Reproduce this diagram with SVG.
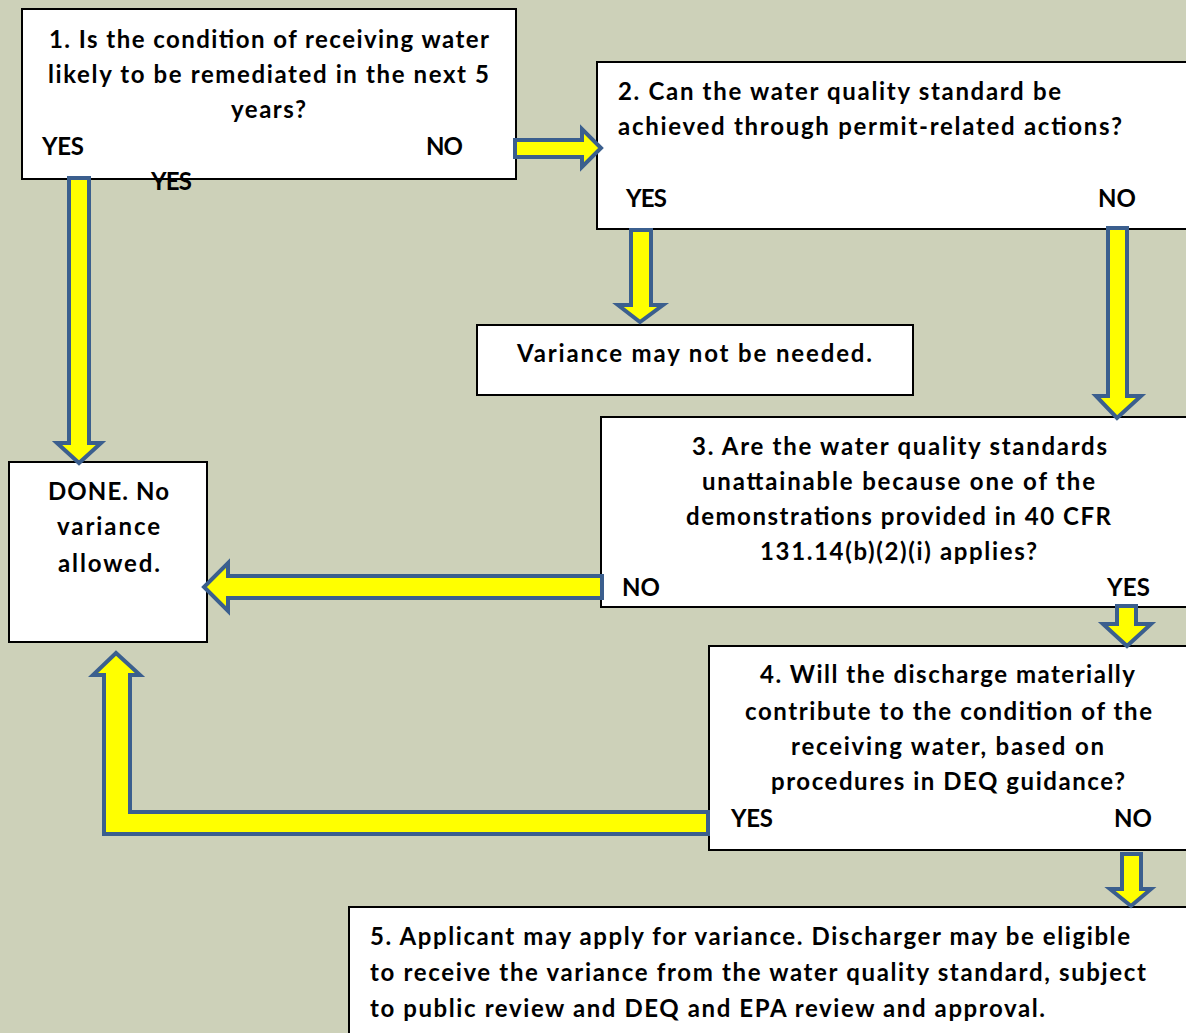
<svg xmlns="http://www.w3.org/2000/svg" width="1186" height="1033" viewBox="0 0 1186 1033">
<style>
.box{fill:#fff;stroke:#000;stroke-width:2}
.t{font-family:Lato,"Liberation Sans",sans-serif;font-weight:bold;font-size:24px;fill:#000}
.arr{fill:#ffff00;stroke:#3b5f8e;stroke-width:4;stroke-linejoin:miter}
</style>
<rect width="1186" height="1033" fill="#cdd1b9"/>
<g id="n1">
<rect class="box" x="22" y="9" width="494" height="170"/>
<text class="t" x="49" y="48" textLength="440" lengthAdjust="spacing">1. Is the condition of receiving water</text>
<text class="t" x="48" y="83" textLength="441" lengthAdjust="spacing">likely to be remediated in the next 5</text>
<text class="t" x="231" y="118" textLength="75" lengthAdjust="spacing">years?</text>
<text class="t" x="42" y="155" textLength="42" lengthAdjust="spacing">YES</text>
<text class="t" x="426" y="155" textLength="37" lengthAdjust="spacing">NO</text>
</g>
<g id="n2">
<rect class="box" x="597" y="62" width="600" height="167"/>
<text class="t" x="618" y="100" textLength="443" lengthAdjust="spacing">2. Can the water quality standard be</text>
<text class="t" x="618" y="135" textLength="504" lengthAdjust="spacing">achieved through permit-related  actions?</text>
<text class="t" x="626" y="207" textLength="41" lengthAdjust="spacing">YES</text>
<text class="t" x="1098" y="207" textLength="38" lengthAdjust="spacing">NO</text>
</g>
<g id="nv">
<rect class="box" x="477" y="325" width="436" height="70"/>
<text class="t" x="517" y="362" textLength="355" lengthAdjust="spacing">Variance may not be needed.</text>
</g>
<g id="n3">
<rect class="box" x="601" y="417" width="600" height="190"/>
<text class="t" x="692" y="455" textLength="415" lengthAdjust="spacing">3. Are the water quality standards</text>
<text class="t" x="702" y="490" textLength="393" lengthAdjust="spacing">unattainable because one of the</text>
<text class="t" x="686" y="525" textLength="425" lengthAdjust="spacing">demonstrations provided in 40 CFR</text>
<text class="t" x="760" y="560" textLength="277" lengthAdjust="spacing">131.14(b)(2)(i) applies?</text>
<text class="t" x="622" y="596" textLength="38" lengthAdjust="spacing">NO</text>
<text class="t" x="1107" y="596" textLength="43" lengthAdjust="spacing">YES</text>
</g>
<g id="n4">
<rect class="box" x="709" y="646" width="600" height="204"/>
<text class="t" x="760" y="683" textLength="375" lengthAdjust="spacing">4. Will the discharge materially</text>
<text class="t" x="745" y="720" textLength="407" lengthAdjust="spacing">contribute to the condition of the</text>
<text class="t" x="791" y="755" textLength="313" lengthAdjust="spacing">receiving water, based on</text>
<text class="t" x="771" y="790" textLength="354" lengthAdjust="spacing">procedures in DEQ guidance?</text>
<text class="t" x="731" y="827" textLength="42" lengthAdjust="spacing">YES</text>
<text class="t" x="1114" y="827" textLength="38" lengthAdjust="spacing">NO</text>
</g>
<g id="n5">
<rect class="box" x="349" y="907" width="900" height="140"/>
<text class="t" x="370" y="945" textLength="760" lengthAdjust="spacing">5. Applicant may apply for variance. Discharger may be eligible</text>
<text class="t" x="370" y="981" textLength="776" lengthAdjust="spacing">to receive the variance from the water quality standard, subject</text>
<text class="t" x="370" y="1017" textLength="675" lengthAdjust="spacing">to public review and DEQ and EPA review and approval.</text>
</g>
<g id="ndone">
<rect class="box" x="9" y="462" width="198" height="180"/>
<text class="t" x="48" y="500" textLength="121" lengthAdjust="spacing">DONE. No</text>
<text class="t" x="57" y="535" textLength="103" lengthAdjust="spacing">variance</text>
<text class="t" x="58" y="572" textLength="102" lengthAdjust="spacing">allowed.</text>
</g>
<g id="connectors">
<polygon class="arr" points="515,140 582,140 582,129 601,148 582,167 582,157 515,157"/>
<polygon class="arr" points="69,178 89,178 89,443 101,443 79,463 57,443 69,443"/>
<polygon class="arr" points="631,230 651,230 651,305 663,305 640,322 618,305 631,305"/>
<polygon class="arr" points="1108,228 1127,228 1127,396 1141,396 1117,418 1096,396 1108,396"/>
<polygon class="arr" points="602,576 602,598 228,598 228,611 204,587 228,563 228,576"/>
<polygon class="arr" points="1117,606 1136,606 1136,624 1151,624 1127,646 1103,624 1117,624"/>
<polygon class="arr" points="1122,854 1141,854 1141,889 1151,889 1131,906 1110,889 1122,889"/>
<polygon class="arr" points="116,653 140,675 130,675 130,812 708,812 708,834 104,834 104,675 93,675"/>
</g>
<text class="t" x="151" y="190" textLength="41" lengthAdjust="spacing">YES</text>
</svg>
